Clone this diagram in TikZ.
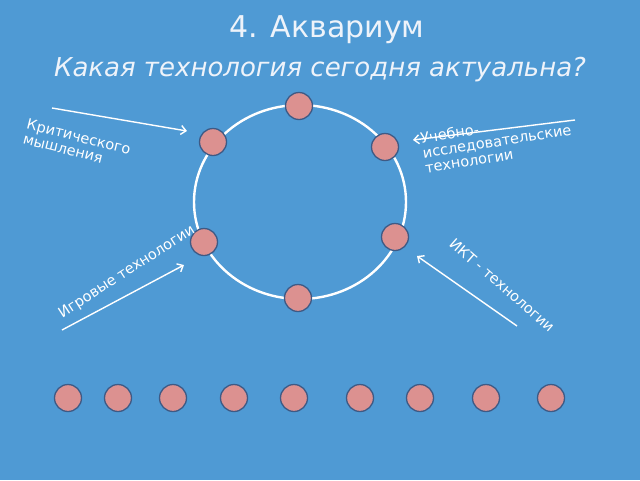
\documentclass[tikz,border=0pt]{standalone}
\usetikzlibrary{arrows.meta}
\usepackage{fontspec}
\setmainfont{DejaVu Sans}
\definecolor{bg}{HTML}{4F9AD4}
\definecolor{dot}{HTML}{DC9190}
\definecolor{dotb}{HTML}{3E5A85}
\definecolor{ttl}{HTML}{EEF3FA}
\begin{document}
\begin{tikzpicture}[x=1pt,y=-1pt,
  dotn/.style={circle,fill=dot,draw=dotb,line width=1.3pt,minimum size=27pt,inner sep=0pt},
  arr/.style={draw=white,line width=1.4pt,-{Straight Barb[length=5pt,width=9pt]}},
  lbl/.style={text=white,font=\fontsize{14.5}{15}\selectfont,inner sep=1pt}]
\fill[bg] (0,0) rectangle (640,480);
\useasboundingbox (0,0) rectangle (640,480);
\node[text=ttl,font=\fontsize{30}{32}\selectfont] (t) at (327,30) {4. Аквариум};
\node[text=ttl,font=\fontsize{26}{28}\selectfont\itshape] (s) at (320,70) {Какая технология сегодня актуальна?};
\draw[white,line width=2.4pt] (300,202) ellipse [x radius=106,y radius=97];
\foreach \n/\x/\y in {a/299/106,b/213/142,c/385/147,d/395/237,e/204/242,f/298/298}
  \node[dotn] (\n) at (\x,\y) {};
\foreach \x [count=\i] in {68,118,173,234,294,360,420,486,551}
  \node[dotn] (r\i) at (\x,398) {};
\coordinate (p1) at (52,108); \coordinate (q1) at (187,131);
\coordinate (p2) at (575,120); \coordinate (q2) at (413,140);
\coordinate (p3) at (62,330); \coordinate (q3) at (184,265);
\coordinate (p4) at (517,326); \coordinate (q4) at (417,256);
\foreach \i in {1,...,4} \draw[arr] (p\i) -- (q\i);
\node[lbl,align=left,rotate=-14] (l1) at (77,144) {Критического\\мышления};
\node[lbl,align=left,rotate=9] (l2) at (497,141) {Учебно-\\исследовательские\\технологии};
\node[lbl,rotate=33] (l3) at (127,272) {Игровые технологии};
\node[lbl,rotate=-41] (l4) at (502,285) {ИКТ - технологии};
\end{tikzpicture}
\end{document}
